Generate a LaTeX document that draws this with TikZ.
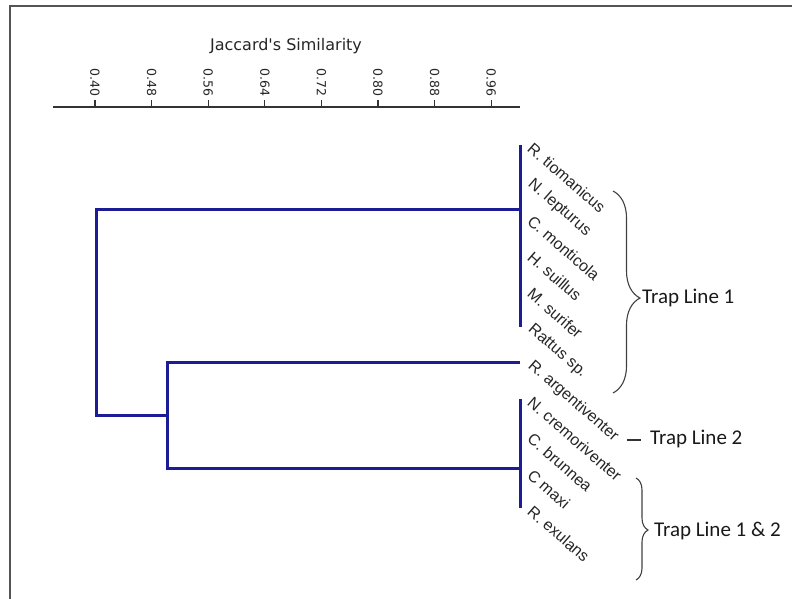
\documentclass[tikz,border=0pt]{standalone}
\usepackage{fontspec}
\setmainfont{Liberation Sans}
\newfontfamily\calfont{Carlito}
\newfontfamily\axfont{DejaVu Sans}
\usetikzlibrary{decorations.pathreplacing}
\definecolor{dendro}{RGB}{28,28,150}
\definecolor{framegray}{RGB}{85,85,85}
\begin{document}
\begin{tikzpicture}[x=1pt,y=-1pt,
  tree/.style={draw=dendro, line width=3pt},
  axisline/.style={draw=black!80, line width=1.3pt},
  ticklabel/.style={font=\axfont\fontsize{12.5}{14}\selectfont, rotate=-90, anchor=east, inner sep=0pt, text=black!85},
  titlelabel/.style={font=\axfont\fontsize{16}{18}\selectfont, inner sep=0pt, text=black!85},
  species/.style={font=\fontsize{16}{18}\selectfont, rotate=-41, anchor=west, inner sep=0pt, text=black!85},
  trap/.style={font=\calfont\fontsize{21}{24}\selectfont, anchor=west, inner sep=0pt, text=black!90},
  bracestyle/.style={draw=black!75, line width=1.1pt, decorate}]
\useasboundingbox (0,0) rectangle (792,599);

% frame
\coordinate (fb) at (10,599);
\coordinate (fc) at (10,6);
\coordinate (fr) at (792,6);
\draw[framegray, line width=2pt] (fb) -- (fc) -- (fr);

% axis
\node[titlelabel] (title) at (286,46) {Jaccard's Similarity};
\coordinate (axL) at (53,107);
\coordinate (axR) at (520,107);
\draw[axisline] (axL) -- (axR);
\foreach \lab [count=\i from 0] in {0.40,0.48,0.56,0.64,0.72,0.80,0.88,0.96}{
  \pgfmathsetmacro{\xx}{95+56.6*\i}
  \coordinate (tk\i) at (\xx,107);
  \coordinate (tt\i) at (\xx,100);
  \draw[axisline] (tk\i) -- (tt\i);
  \node[ticklabel] (tl\i) at (\xx,97) {\lab};
}

% leaves and labels
\foreach \name [count=\i from 0] in {R. tiomanicus,N. lepturus,C. monticola,H. suillus,M. surifer,Rattus sp.,R. argentiventer,N. cremoriventer,C. brunnea,C maxi,R. exulans}{
  \pgfmathsetmacro{\yy}{145+36.3*\i}
  \coordinate (L\i) at (520,\yy);
  \node[species] (s\i) at (530,\yy+1) {\name};
}

% dendrogram
\coordinate (c1) at (520,209);
\coordinate (r1) at (96,209);
\coordinate (r2) at (96,415);
\coordinate (n2m) at (167,415);
\coordinate (n2a) at (L6 -| n2m);
\coordinate (n2b) at (167,468);
\coordinate (c2) at (520,468);
\draw[tree] (L0) -- (L5);
\draw[tree] (c1) -- (r1) -- (r2) -- (n2m);
\draw[tree] (L6) -- (n2a) -- (n2b) -- (c2);
\draw[tree] (L7) -- (L10);

% braces and labels
\coordinate (b1t) at (613,191);
\coordinate (b1b) at (613,393);
\draw[bracestyle, decoration={brace, amplitude=27pt, aspect=0.53}] (b1t) -- (b1b);
\node[trap] (t1) at (642,298) {Trap Line 1};

\coordinate (d1) at (627,440);
\coordinate (d2) at (641,440);
\draw[draw=black!80, line width=1.1pt] (d1) -- (d2);
\node[trap] (t2) at (650,439) {Trap Line 2};

\coordinate (b2t) at (636,478);
\coordinate (b2b) at (636,580);
\draw[bracestyle, decoration={brace, amplitude=12pt, aspect=0.51}] (b2t) -- (b2b);
\node[trap] (t3) at (654,531) {Trap Line 1 \& 2};
\end{tikzpicture}
\end{document}
